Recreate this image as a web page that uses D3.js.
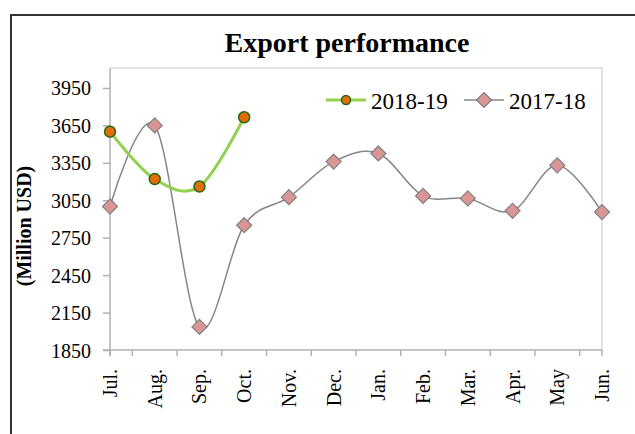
<!DOCTYPE html>
<html>
<head>
<meta charset="UTF-8">
<title>Export performance</title>
<script src="https://cdn.jsdelivr.net/npm/d3@7"></script>
<style>
body { margin: 0; background: #fff; }
svg text { font-family: "Liberation Serif", "Times New Roman", serif; fill: #000; }
.ticklbl { font-size: 20px; }
.title { font-size: 28px; font-weight: bold; }
.ytitle { font-size: 20px; font-weight: bold; }
.legend text { font-size: 23px; }
</style>
</head>
<body>
<svg width="635" height="434"></svg>
<script>
var months = ["Jul.", "Aug.", "Sep.", "Oct.", "Nov.", "Dec.", "Jan.", "Feb.", "Mar.", "Apr.", "May", "Jun."];
var exports1819 = [3600, 3220, 3160, 3715];
var exports1718 = [3000, 3650, 2035, 2850, 3075, 3360, 3425, 3085, 3065, 2965, 3330, 2955];
var yTicks = [1850, 2150, 2450, 2750, 3050, 3350, 3650, 3950];

var svg = d3.select("svg");

// outer chart frame (cut at right and bottom)
svg.append("path")
    .attr("d", "M11,440 L11,15 L640,15")
    .attr("fill", "none")
    .attr("stroke", "#333")
    .attr("stroke-width", 2);

var pl = 110, pt = 68, pr = 602, pb = 350;

var x = d3.scalePoint().domain(months).range([pl, pr]);
var y = d3.scaleLinear().domain([1850, 4110]).range([pb, pt]);

// plot area border
svg.append("path")
    .attr("d", "M" + pl + "," + pt + " L" + pr + "," + pt + " L" + pr + "," + pb)
    .attr("fill", "none")
    .attr("stroke", "#d9d9d9")
    .attr("stroke-width", 1.5);

// y axis
var yAxis = svg.append("g")
    .attr("transform", "translate(" + pl + ",0)")
    .call(d3.axisLeft(y).tickValues(yTicks).tickSize(7).tickPadding(9).tickFormat(d3.format("d")));
yAxis.attr("font-family", null).attr("font-size", null);
yAxis.selectAll("line, path").attr("stroke", "#b0b0b0").attr("stroke-width", 1.5);
yAxis.select(".domain").attr("d", "M0," + (pb + 6) + "V" + pt);
yAxis.selectAll(".tick text").attr("class", "ticklbl").attr("x", -19).attr("dy", "0.35em");

// x axis: ticks between categories
var step = x.step();
var xt = [pl];
months.forEach(function(m, i) { if (i < months.length - 1) xt.push(x(m) + step / 2); });
xt.push(pr);

var xAxis = svg.append("g").attr("transform", "translate(0," + pb + ")");
xAxis.append("path")
    .attr("d", "M" + (pl - 7) + ",0H" + pr)
    .attr("stroke", "#b0b0b0").attr("stroke-width", 1.5);
xAxis.selectAll("line.tk").data(xt).enter().append("line")
    .attr("class", "tk")
    .attr("x1", function(d) { return d; }).attr("x2", function(d) { return d; })
    .attr("y1", 0).attr("y2", 6)
    .attr("stroke", "#b0b0b0").attr("stroke-width", 1.5);
xAxis.selectAll("text").data(months).enter().append("text")
    .attr("class", "ticklbl")
    .attr("transform", function(d) { return "translate(" + (x(d) + 7) + ",19) rotate(-90)"; })
    .attr("text-anchor", "end")
    .text(function(d) { return d; });

// lines
var line = d3.line()
    .x(function(d, i) { return x(months[i]); })
    .y(function(d) { return y(d); })
    .curve(d3.curveCatmullRom.alpha(0));

svg.append("path")
    .datum(exports1718)
    .attr("d", line)
    .attr("fill", "none")
    .attr("stroke", "#868686")
    .attr("stroke-width", 1.5);

svg.append("path")
    .datum(exports1819)
    .attr("d", line)
    .attr("fill", "none")
    .attr("stroke", "#92d050")
    .attr("stroke-width", 3);

function diamond(g, cx, cy) {
  g.append("path")
    .attr("d", "M" + cx + "," + (cy - 7.5) + "L" + (cx + 7.5) + "," + cy + "L" + cx + "," + (cy + 7.5) + "L" + (cx - 7.5) + "," + cy + "Z")
    .attr("fill", "#d99694")
    .attr("stroke", "#7f7f7f")
    .attr("stroke-width", 1.2);
}
function dot(g, cx, cy) {
  g.append("circle")
    .attr("cx", cx).attr("cy", cy).attr("r", 5.5)
    .attr("fill", "#e46c0a")
    .attr("stroke", "#1e6b10")
    .attr("stroke-width", 1.5);
}

var marks = svg.append("g");
exports1718.forEach(function(v, i) { diamond(marks, x(months[i]), y(v)); });
exports1819.forEach(function(v, i) { dot(marks, x(months[i]), y(v)); });

// title
svg.append("text")
    .attr("class", "title")
    .attr("x", 347).attr("y", 52)
    .attr("text-anchor", "middle")
    .text("Export performance");

// y axis title
svg.append("text")
    .attr("class", "ytitle")
    .attr("transform", "translate(31,226) rotate(-90)")
    .attr("text-anchor", "middle")
    .text("(Million USD)");

// legend
var legend = svg.append("g").attr("class", "legend");
var lg1 = legend.append("g");
lg1.append("line").attr("x1", 326).attr("x2", 366).attr("y1", 100).attr("y2", 100)
    .attr("stroke", "#92d050").attr("stroke-width", 3);
lg1.append("circle").attr("cx", 346).attr("cy", 100).attr("r", 4.5)
    .attr("fill", "#e46c0a").attr("stroke", "#1e6b10").attr("stroke-width", 1.5);
lg1.append("text").attr("x", 371).attr("y", 109).text("2018-19");

var lg2 = legend.append("g");
lg2.append("line").attr("x1", 464).attr("x2", 504).attr("y1", 100).attr("y2", 100)
    .attr("stroke", "#868686").attr("stroke-width", 1.5);
diamond(lg2, 484, 100);
lg2.append("text").attr("x", 509).attr("y", 109).text("2017-18");
</script>
</body>
</html>
